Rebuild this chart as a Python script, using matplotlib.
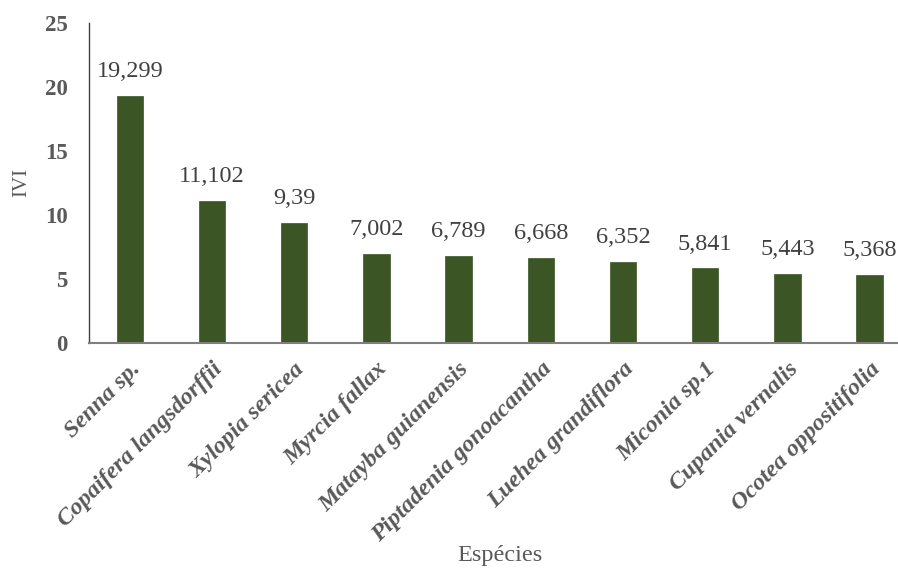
import matplotlib
matplotlib.use("Agg")
import matplotlib.pyplot as plt

species = ["Senna sp.", "Copaifera langsdorffii", "Xylopia sericea", "Myrcia fallax",
           "Matayba guianensis", "Piptadenia gonoacantha", "Luehea grandiflora",
           "Miconia sp.1", "Cupania vernalis", "Ocotea oppositifolia"]
ivi = [19.299, 11.102, 9.39, 7.002, 6.789, 6.668, 6.352, 5.841, 5.443, 5.368]
ivi_labels = ["19,299", "11,102", "9,39", "7,002", "6,789", "6,668", "6,352", "5,841", "5,443", "5,368"]
yticks = [0, 5, 10, 15, 20, 25]

plt.rcParams['font.family'] = ['Liberation Serif', 'DejaVu Serif']

W, H = 898, 570
fig = plt.figure(figsize=(W / 100, H / 100), dpi=100)
left, right = 88.7, 88.7 + 822
bottom, top = 343.3, 23
ax = fig.add_axes([left / W, 1 - bottom / H, (right - left) / W, (bottom - top) / H])

x = list(range(len(species)))
bars = ax.bar(x, ivi, width=0.32, color="#3b5524", edgecolor="#3b5524", linewidth=0.5)
for xi, v, lab in zip(x, ivi, ivi_labels):
    ax.annotate(lab, (xi, v), xytext=(0, 10), textcoords="offset points",
                ha="center", va="bottom", fontsize=17.5, color="#404040")

ax.set_xlim(-0.5, len(species) - 0.5)
ax.set_ylim(0, 25)
ax.set_yticks(yticks)
ax.set_yticklabels([str(t) for t in yticks], fontsize=16.5, fontweight="bold", color="#595959")
ax.tick_params(axis="y", length=0, pad=15)
ax.set_xticks(x)
ax.set_xticklabels(species, rotation=45, ha="right", rotation_mode="anchor",
                   fontsize=17.5, fontweight="bold", fontstyle="italic", color="#595959")
ax.tick_params(axis="x", length=0, pad=11)

for s in ["top", "right"]:
    ax.spines[s].set_visible(False)
ax.spines["left"].set_color("#404040")
ax.spines["bottom"].set_color("#7f7f7f")
ax.spines["left"].set_linewidth(1.0)
ax.spines["bottom"].set_linewidth(1.5)

fig.text(22 / W, 1 - 182 / H, "IVI", rotation=90, ha="center", va="center",
         fontsize=15, color="#595959")
fig.text(500 / W, 1 - 556 / H, "Espécies", ha="center", va="center",
         fontsize=17.5, color="#595959")

fig.savefig("out.png", dpi=100)
